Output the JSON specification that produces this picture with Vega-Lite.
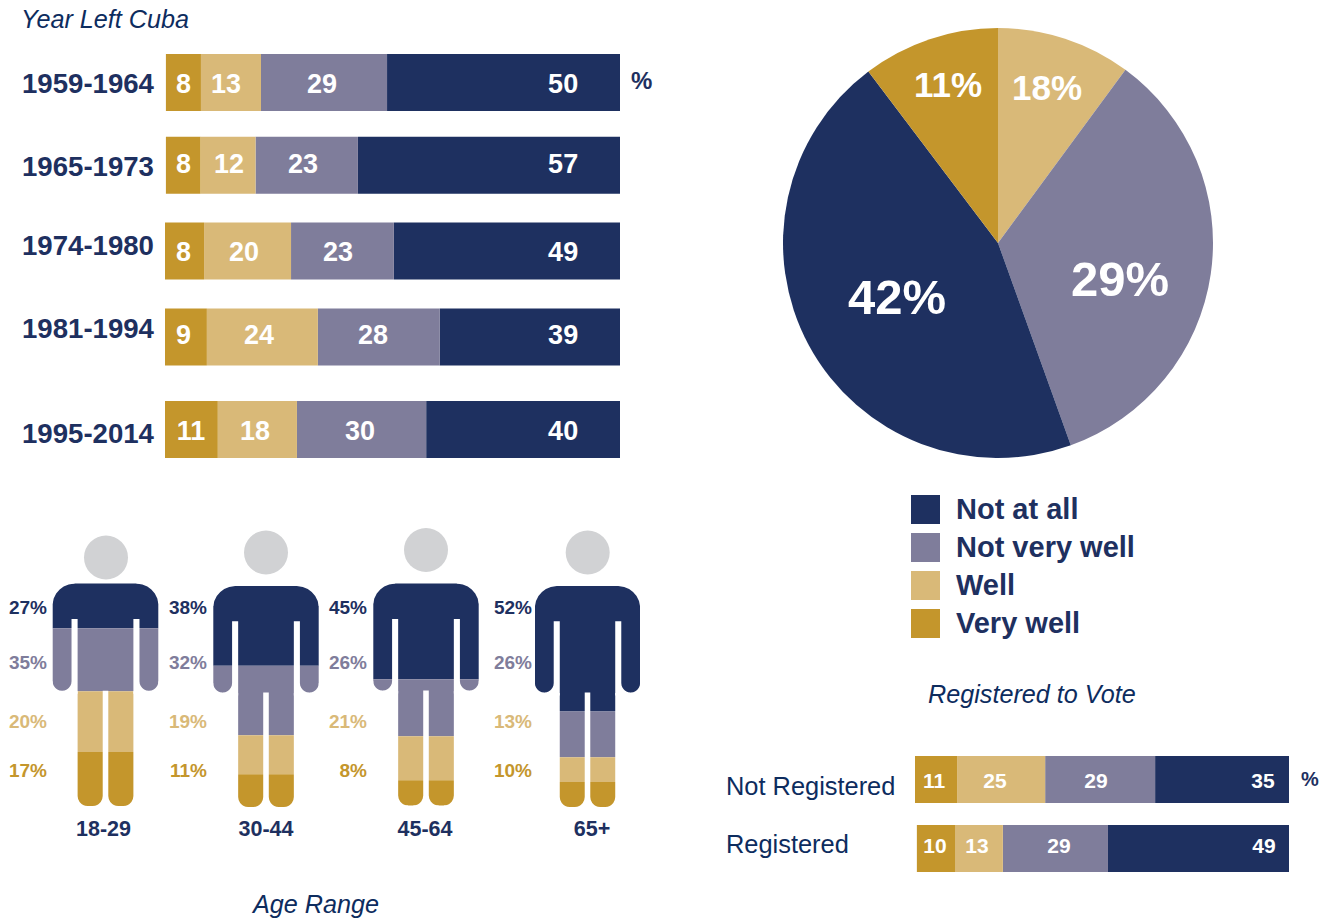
{"$schema":"https://vega.github.io/schema/vega-lite/v6.json","width":1326,"height":919,"padding":0,"autosize":{"type":"none"},"background":"white",
"config":{"font":"Liberation Sans","view":{"stroke":null},"axis":{"domain":false,"grid":false,"ticks":false,"labels":false,"title":null}},
"datasets":{
"years":[
{"row":"1959-1964","rank":1,"category":"Not at all","order":1,"v":51.2,"label":"50"},{"row":"1959-1964","rank":1,"category":"Not very well","order":2,"v":27.7,"label":"29"},{"row":"1959-1964","rank":1,"category":"Well","order":3,"v":13.2,"label":"13"},{"row":"1959-1964","rank":1,"category":"Very well","order":4,"v":7.7,"label":"8"},
{"row":"1965-1973","rank":2,"category":"Not at all","order":1,"v":57.6,"label":"57"},{"row":"1965-1973","rank":2,"category":"Not very well","order":2,"v":22.5,"label":"23"},{"row":"1965-1973","rank":2,"category":"Well","order":3,"v":12.1,"label":"12"},{"row":"1965-1973","rank":2,"category":"Very well","order":4,"v":7.6,"label":"8"},
{"row":"1974-1980","rank":3,"category":"Not at all","order":1,"v":49.7,"label":"49"},{"row":"1974-1980","rank":3,"category":"Not very well","order":2,"v":22.6,"label":"23"},{"row":"1974-1980","rank":3,"category":"Well","order":3,"v":19.1,"label":"20"},{"row":"1974-1980","rank":3,"category":"Very well","order":4,"v":8.6,"label":"8"},
{"row":"1981-1994","rank":4,"category":"Not at all","order":1,"v":39.6,"label":"39"},{"row":"1981-1994","rank":4,"category":"Not very well","order":2,"v":26.8,"label":"28"},{"row":"1981-1994","rank":4,"category":"Well","order":3,"v":24.4,"label":"24"},{"row":"1981-1994","rank":4,"category":"Very well","order":4,"v":9.2,"label":"9"},
{"row":"1995-2014","rank":5,"category":"Not at all","order":1,"v":42.6,"label":"40"},{"row":"1995-2014","rank":5,"category":"Not very well","order":2,"v":28.4,"label":"30"},{"row":"1995-2014","rank":5,"category":"Well","order":3,"v":17.4,"label":"18"},{"row":"1995-2014","rank":5,"category":"Very well","order":4,"v":11.6,"label":"11"}],
"registered":[
{"row":"Not Registered","rank":1,"category":"Not at all","order":1,"v":35.8,"label":"35"},{"row":"Not Registered","rank":1,"category":"Not very well","order":2,"v":29.4,"label":"29"},{"row":"Not Registered","rank":1,"category":"Well","order":3,"v":23.5,"label":"25"},{"row":"Not Registered","rank":1,"category":"Very well","order":4,"v":11.3,"label":"11"},
{"row":"Registered","rank":2,"category":"Not at all","order":1,"v":48.4,"label":"49"},{"row":"Registered","rank":2,"category":"Not very well","order":2,"v":28.1,"label":"29"},{"row":"Registered","rank":2,"category":"Well","order":3,"v":12.8,"label":"13"},{"row":"Registered","rank":2,"category":"Very well","order":4,"v":10.2,"label":"10"}],
"pie":[
{"category":"Well","rank":1,"share":10.1,"label":"18%"},{"category":"Not very well","rank":2,"share":34.4,"label":"29%"},{"category":"Not at all","rank":3,"share":45.2,"label":"42%"},{"category":"Very well","rank":4,"share":10.3,"label":"11%"}],
"people":[{"age":"18-29","rank":1},{"age":"30-44","rank":2},{"age":"45-64","rank":3},{"age":"65+","rank":4}],
"pct":[
{"age":"18-29","rank":1,"band":1,"category":"Not at all","label":"27%"},{"age":"18-29","rank":1,"band":2,"category":"Not very well","label":"35%"},{"age":"18-29","rank":1,"band":3,"category":"Well","label":"20%"},{"age":"18-29","rank":1,"band":4,"category":"Very well","label":"17%"},
{"age":"30-44","rank":2,"band":1,"category":"Not at all","label":"38%"},{"age":"30-44","rank":2,"band":2,"category":"Not very well","label":"32%"},{"age":"30-44","rank":2,"band":3,"category":"Well","label":"19%"},{"age":"30-44","rank":2,"band":4,"category":"Very well","label":"11%"},
{"age":"45-64","rank":3,"band":1,"category":"Not at all","label":"45%"},{"age":"45-64","rank":3,"band":2,"category":"Not very well","label":"26%"},{"age":"45-64","rank":3,"band":3,"category":"Well","label":"21%"},{"age":"45-64","rank":3,"band":4,"category":"Very well","label":"8%"},
{"age":"65+","rank":4,"band":1,"category":"Not at all","label":"52%"},{"age":"65+","rank":4,"band":2,"category":"Not very well","label":"26%"},{"age":"65+","rank":4,"band":3,"category":"Well","label":"13%"},{"age":"65+","rank":4,"band":4,"category":"Very well","label":"10%"}],
"bands":[
{"age":"18-29","category":"Not at all","y0":0,"y1":44.6},{"age":"18-29","category":"Not very well","y0":44.6,"y1":107.5},{"age":"18-29","category":"Well","y0":107.5,"y1":168},{"age":"18-29","category":"Very well","y0":168,"y1":222},
{"age":"30-44","category":"Not at all","y0":0,"y1":80},{"age":"30-44","category":"Not very well","y0":80,"y1":150},{"age":"30-44","category":"Well","y0":150,"y1":189},{"age":"30-44","category":"Very well","y0":189,"y1":222},
{"age":"45-64","category":"Not at all","y0":0,"y1":95.7},{"age":"45-64","category":"Not very well","y0":95.7,"y1":152.7},{"age":"45-64","category":"Well","y0":152.7,"y1":196.7},{"age":"45-64","category":"Very well","y0":196.7,"y1":222},
{"age":"65+","category":"Not at all","y0":0,"y1":126},{"age":"65+","category":"Not very well","y0":126,"y1":172},{"age":"65+","category":"Well","y0":172,"y1":197},{"age":"65+","category":"Very well","y0":197,"y1":222}],
"body":[
{"part":"shoulderL","y":-3,"from":-54,"to":-31},{"part":"shoulderL","y":0,"from":-54,"to":-31},{"part":"shoulderL","y":1,"from":-54,"to":-37},{"part":"shoulderL","y":3,"from":-54,"to":-42},{"part":"shoulderL","y":6,"from":-54,"to":-46},{"part":"shoulderL","y":10,"from":-54,"to":-49.5},{"part":"shoulderL","y":15,"from":-54,"to":-52},{"part":"shoulderL","y":20,"from":-54,"to":-53},
{"part":"shoulderR","y":-3,"from":31,"to":54},{"part":"shoulderR","y":0,"from":31,"to":54},{"part":"shoulderR","y":1,"from":37,"to":54},{"part":"shoulderR","y":3,"from":42,"to":54},{"part":"shoulderR","y":6,"from":46,"to":54},{"part":"shoulderR","y":10,"from":49.5,"to":54},{"part":"shoulderR","y":15,"from":52,"to":54},{"part":"shoulderR","y":20,"from":53,"to":54},
{"part":"gapL","y":35.5,"from":-34.1,"to":-28},{"part":"gapL","y":97.5,"from":-34.1,"to":-28},{"part":"gapL","y":100,"from":-34.4,"to":-28},{"part":"gapL","y":102,"from":-35.25,"to":-28},{"part":"gapL","y":104,"from":-36.7,"to":-28},{"part":"gapL","y":105,"from":-37.8,"to":-28},{"part":"gapL","y":106,"from":-39.3,"to":-28},{"part":"gapL","y":106.7,"from":-41.1,"to":-28},{"part":"gapL","y":107,"from":-43.6,"to":-28},{"part":"gapL","y":110,"from":-43.6,"to":-28},
{"part":"gapR","y":35.5,"from":28,"to":34.1},{"part":"gapR","y":97.5,"from":28,"to":34.1},{"part":"gapR","y":100,"from":28,"to":34.4},{"part":"gapR","y":102,"from":28,"to":35.25},{"part":"gapR","y":104,"from":28,"to":36.7},{"part":"gapR","y":105,"from":28,"to":37.8},{"part":"gapR","y":106,"from":28,"to":39.3},{"part":"gapR","y":106.7,"from":28,"to":41.1},{"part":"gapR","y":107,"from":28,"to":43.6},{"part":"gapR","y":110,"from":28,"to":43.6},
{"part":"armOutL","y":97.5,"from":-54,"to":-53.1},{"part":"armOutL","y":100,"from":-54,"to":-52.8},{"part":"armOutL","y":102,"from":-54,"to":-51.95},{"part":"armOutL","y":104,"from":-54,"to":-50.5},{"part":"armOutL","y":105,"from":-54,"to":-49.4},{"part":"armOutL","y":106,"from":-54,"to":-47.9},{"part":"armOutL","y":106.7,"from":-54,"to":-46.1},{"part":"armOutL","y":107,"from":-54,"to":-43.6},{"part":"armOutL","y":110,"from":-54,"to":-43.6},
{"part":"armOutR","y":97.5,"from":53.1,"to":54},{"part":"armOutR","y":100,"from":52.8,"to":54},{"part":"armOutR","y":102,"from":51.95,"to":54},{"part":"armOutR","y":104,"from":50.5,"to":54},{"part":"armOutR","y":105,"from":49.4,"to":54},{"part":"armOutR","y":106,"from":47.9,"to":54},{"part":"armOutR","y":106.7,"from":46.1,"to":54},{"part":"armOutR","y":107,"from":43.6,"to":54},{"part":"armOutR","y":110,"from":43.6,"to":54},
{"part":"sideL","y":107.5,"from":-54,"to":-28},{"part":"sideL","y":212,"from":-54,"to":-28},{"part":"sideL","y":215,"from":-54,"to":-27.5},{"part":"sideL","y":218,"from":-54,"to":-26},{"part":"sideL","y":220,"from":-54,"to":-24},{"part":"sideL","y":221,"from":-54,"to":-22.4},{"part":"sideL","y":221.7,"from":-54,"to":-20.4},{"part":"sideL","y":222,"from":-54,"to":-18},{"part":"sideL","y":225,"from":-54,"to":-18},
{"part":"sideR","y":107.5,"from":28,"to":54},{"part":"sideR","y":212,"from":28,"to":54},{"part":"sideR","y":215,"from":27.5,"to":54},{"part":"sideR","y":218,"from":26,"to":54},{"part":"sideR","y":220,"from":24,"to":54},{"part":"sideR","y":221,"from":22.4,"to":54},{"part":"sideR","y":221.7,"from":20.4,"to":54},{"part":"sideR","y":222,"from":18,"to":54},{"part":"sideR","y":225,"from":18,"to":54},
{"part":"legGap","y":107,"from":-2.8,"to":2.8},{"part":"legGap","y":212,"from":-2.8,"to":2.8},{"part":"legGap","y":215,"from":-3.3,"to":3.3},{"part":"legGap","y":218,"from":-4.8,"to":4.8},{"part":"legGap","y":220,"from":-6.8,"to":6.8},{"part":"legGap","y":221,"from":-8.4,"to":8.4},{"part":"legGap","y":221.7,"from":-10.4,"to":10.4},{"part":"legGap","y":222,"from":-12.8,"to":12.8},{"part":"legGap","y":225,"from":-12.8,"to":12.8}],
"titles":[{"text":"Year Left Cuba","rank":1},{"text":"Age Range","rank":2},{"text":"Registered to Vote","rank":3}],
"units":[{"text":"%"}]
},
"resolve":{"scale":{"x":"independent","y":"independent","theta":"independent"}},
"layer":[
{"data":{"name":"pie"},"mark":{"type":"arc","outerRadius":215,"innerRadius":0},"encoding":{
"x":{"datum":0,"type":"quantitative","axis":null,"scale":{"domain":[-1,1],"range":[783,1213]}},
"y":{"datum":0,"type":"quantitative","axis":null,"scale":{"domain":[-1,1],"range":[28,458]}},
"theta":{"field":"share","type":"quantitative","stack":true,"scale":{"domain":[0,100],"range":[0,6.2832]}},
"order":{"field":"rank","type":"quantitative"},
"color":{"field":"category","type":"nominal","scale":{"domain":["Not at all","Not very well","Well","Very well"],"range":["#1e3060","#7f7d9b","#d9b978","#c4962c"]},
"legend":{"title":null,"orient":"none","legendX":911,"legendY":495,"padding":0,"symbolType":"square","symbolSize":841,"symbolStrokeWidth":0,"symbolOpacity":1,"labelFontSize":29,"labelFontWeight":"bold","labelColor":"#1e3060","labelFont":"Liberation Sans","labelOffset":16,"rowPadding":8,"labelLimit":300}}}},
{"data":{"name":"pie"},"transform":[{"filter":"datum.rank==2||datum.rank==3"}],"mark":{"type":"text","fontWeight":"bold","color":"white","fontSize":49},"encoding":{
"x":{"field":"rank","type":"quantitative","axis":null,"scale":{"domain":[2,3],"range":[1120,897]}},
"y":{"field":"rank","type":"quantitative","axis":null,"scale":{"domain":[2,3],"range":[281,299]}},
"text":{"field":"label"}}},
{"data":{"name":"pie"},"transform":[{"filter":"datum.rank==1||datum.rank==4"}],"mark":{"type":"text","fontWeight":"bold","color":"white","fontSize":35},"encoding":{
"x":{"field":"rank","type":"quantitative","axis":null,"scale":{"domain":[1,4],"range":[1047,948]}},
"y":{"field":"rank","type":"quantitative","axis":null,"scale":{"domain":[1,4],"range":[89,86]}},
"text":{"field":"label"}}},

{"data":{"name":"years"},"transform":[{"stack":"v","groupby":["rank"],"sort":[{"field":"order","order":"ascending"}],"as":["v0","v1"]}],"mark":{"type":"bar","size":57,"orient":"horizontal"},"encoding":{
"x":{"field":"v0","type":"quantitative","axis":null,"scale":{"domain":[0,100],"range":[620,165]}},"x2":{"field":"v1"},
"y":{"field":"rank","type":"quantitative","axis":null,"scale":{"domain":[1,2,3,4,5],"range":[82.5,165.2,251,337,429.5],"padding":0}},
"color":{"field":"category","type":"nominal","legend":null}}},
{"data":{"name":"years"},"transform":[{"filter":"datum.order==4"}],"mark":{"type":"text","fontSize":27,"fontWeight":"bold","color":"white"},"encoding":{
"x":{"field":"rank","type":"quantitative","axis":null,"scale":{"domain":[1,2,3,4,5],"range":[183.5,183.5,183.5,183.5,191]}},
"y":{"field":"rank","type":"quantitative","axis":null,"scale":{"domain":[1,2,3,4,5],"range":[84.5,164.5,253,336,431.5]}},
"text":{"field":"label"}}},
{"data":{"name":"years"},"transform":[{"filter":"datum.order==3"}],"mark":{"type":"text","fontSize":27,"fontWeight":"bold","color":"white"},"encoding":{
"x":{"field":"rank","type":"quantitative","axis":null,"scale":{"domain":[1,2,3,4,5],"range":[226,229,244,259,255]}},
"y":{"field":"rank","type":"quantitative","axis":null,"scale":{"domain":[1,2,3,4,5],"range":[84.5,164.5,253,336,431.5]}},
"text":{"field":"label"}}},
{"data":{"name":"years"},"transform":[{"filter":"datum.order==2"}],"mark":{"type":"text","fontSize":27,"fontWeight":"bold","color":"white"},"encoding":{
"x":{"field":"rank","type":"quantitative","axis":null,"scale":{"domain":[1,2,3,4,5],"range":[322,303,338,373,360]}},
"y":{"field":"rank","type":"quantitative","axis":null,"scale":{"domain":[1,2,3,4,5],"range":[84.5,164.5,253,336,431.5]}},
"text":{"field":"label"}}},
{"data":{"name":"years"},"transform":[{"filter":"datum.order==1"}],"mark":{"type":"text","fontSize":27,"fontWeight":"bold","color":"white"},"encoding":{
"x":{"datum":12.5,"type":"quantitative","axis":null,"scale":{"domain":[0,100],"range":[620,165]}},
"y":{"field":"rank","type":"quantitative","axis":null,"scale":{"domain":[1,2,3,4,5],"range":[84.5,164.5,253,336,431.5]}},
"text":{"field":"label"}}},
{"data":{"name":"years"},"transform":[{"filter":"datum.order==1"}],"mark":{"type":"text","fontSize":27.6,"fontWeight":"bold","color":"#1e3060","align":"left"},"encoding":{
"x":{"datum":0,"type":"quantitative","axis":null,"scale":{"domain":[0,1],"range":[22,23]}},
"y":{"field":"rank","type":"quantitative","axis":null,"scale":{"domain":[1,2,3,4,5],"range":[84.5,168,247,330,435]}},
"text":{"field":"row"}}},

{"data":{"name":"registered"},"transform":[{"stack":"v","groupby":["rank"],"sort":[{"field":"order","order":"ascending"}],"as":["v0","v1"]}],"mark":{"type":"bar","size":47,"orient":"horizontal"},"encoding":{
"x":{"field":"v0","type":"quantitative","axis":null,"scale":{"domain":[0,100],"range":[1289,915]}},"x2":{"field":"v1"},
"y":{"field":"rank","type":"quantitative","axis":null,"scale":{"domain":[1,2],"range":[779.5,848.5],"padding":0}},
"color":{"field":"category","type":"nominal","legend":null}}},
{"data":{"name":"registered"},"transform":[{"filter":"datum.order==4"}],"mark":{"type":"text","fontSize":21,"fontWeight":"bold","color":"white"},"encoding":{
"x":{"field":"rank","type":"quantitative","axis":null,"scale":{"domain":[1,2],"range":[934,935]}},
"y":{"field":"rank","type":"quantitative","axis":null,"scale":{"domain":[1,2],"range":[782,847]}},
"text":{"field":"label"}}},
{"data":{"name":"registered"},"transform":[{"filter":"datum.order==3"}],"mark":{"type":"text","fontSize":21,"fontWeight":"bold","color":"white"},"encoding":{
"x":{"field":"rank","type":"quantitative","axis":null,"scale":{"domain":[1,2],"range":[995,977]}},
"y":{"field":"rank","type":"quantitative","axis":null,"scale":{"domain":[1,2],"range":[782,847]}},
"text":{"field":"label"}}},
{"data":{"name":"registered"},"transform":[{"filter":"datum.order==2"}],"mark":{"type":"text","fontSize":21,"fontWeight":"bold","color":"white"},"encoding":{
"x":{"field":"rank","type":"quantitative","axis":null,"scale":{"domain":[1,2],"range":[1096,1059]}},
"y":{"field":"rank","type":"quantitative","axis":null,"scale":{"domain":[1,2],"range":[782,847]}},
"text":{"field":"label"}}},
{"data":{"name":"registered"},"transform":[{"filter":"datum.order==1"}],"mark":{"type":"text","fontSize":21,"fontWeight":"bold","color":"white"},"encoding":{
"x":{"field":"rank","type":"quantitative","axis":null,"scale":{"domain":[1,2],"range":[1263,1264]}},
"y":{"field":"rank","type":"quantitative","axis":null,"scale":{"domain":[1,2],"range":[782,847]}},
"text":{"field":"label"}}},
{"data":{"name":"registered"},"transform":[{"filter":"datum.order==1"}],"mark":{"type":"text","fontSize":25.4,"color":"#0d2c5e","align":"left"},"encoding":{
"x":{"datum":0,"type":"quantitative","axis":null,"scale":{"domain":[0,1],"range":[726,727]}},
"y":{"field":"rank","type":"quantitative","axis":null,"scale":{"domain":[1,2],"range":[787,845]}},
"text":{"field":"row"}}},

{"data":{"name":"titles"},"mark":{"type":"text","fontSize":25.2,"fontStyle":"italic","color":"#0d2c5e","align":"left"},"encoding":{
"x":{"field":"rank","type":"quantitative","axis":null,"scale":{"domain":[1,2,3],"range":[21,253,928]}},
"y":{"field":"rank","type":"quantitative","axis":null,"scale":{"domain":[1,2,3],"range":[20,905,695]}},
"text":{"field":"text"}}},
{"data":{"name":"units"},"mark":{"type":"text","fontSize":24,"fontWeight":"bold","color":"#1e3060","align":"left"},"encoding":{
"x":{"datum":0,"type":"quantitative","axis":null,"scale":{"domain":[0,1],"range":[631,632]}},
"y":{"datum":0,"type":"quantitative","axis":null,"scale":{"domain":[0,1],"range":[82,83]}},
"text":{"field":"text"}}},
{"data":{"name":"units"},"mark":{"type":"text","fontSize":20,"fontWeight":"bold","color":"#1e3060","align":"left"},"encoding":{
"x":{"datum":0,"type":"quantitative","axis":null,"scale":{"domain":[0,1],"range":[1301,1302]}},
"y":{"datum":0,"type":"quantitative","axis":null,"scale":{"domain":[0,1],"range":[780,781]}},
"text":{"field":"text"}}},

{"data":{"name":"bands"},"transform":[{"filter":"datum.age=='18-29'"}],"mark":{"type":"rect"},"encoding":{
"x":{"datum":-53,"type":"quantitative","axis":null,"scale":{"domain":[-53,53],"range":[52.7,158.3]}},"x2":{"datum":53},
"y":{"field":"y0","type":"quantitative","axis":null,"scale":{"domain":[0,222],"range":[583.5,806]}},"y2":{"field":"y1"},
"color":{"field":"category","type":"nominal","legend":null}}},
{"data":{"name":"body"},"mark":{"type":"area","orient":"horizontal","fill":"white"},"encoding":{
"x":{"field":"from","type":"quantitative","stack":null,"axis":null,"scale":{"domain":[-53,53],"range":[52.7,158.3]}},"x2":{"field":"to"},
"y":{"field":"y","type":"quantitative","axis":null,"scale":{"domain":[0,222],"range":[583.5,806]}},
"detail":{"field":"part"}}},
{"data":{"name":"bands"},"transform":[{"filter":"datum.age=='30-44'"}],"mark":{"type":"rect"},"encoding":{
"x":{"datum":-53,"type":"quantitative","axis":null,"scale":{"domain":[-53,53],"range":[213.3,318.7]}},"x2":{"datum":53},
"y":{"field":"y0","type":"quantitative","axis":null,"scale":{"domain":[0,222],"range":[586,807]}},"y2":{"field":"y1"},
"color":{"field":"category","type":"nominal","legend":null}}},
{"data":{"name":"body"},"mark":{"type":"area","orient":"horizontal","fill":"white"},"encoding":{
"x":{"field":"from","type":"quantitative","stack":null,"axis":null,"scale":{"domain":[-53,53],"range":[213.3,318.7]}},"x2":{"field":"to"},
"y":{"field":"y","type":"quantitative","axis":null,"scale":{"domain":[0,222],"range":[586,807]}},
"detail":{"field":"part"}}},
{"data":{"name":"bands"},"transform":[{"filter":"datum.age=='45-64'"}],"mark":{"type":"rect"},"encoding":{
"x":{"datum":-53,"type":"quantitative","axis":null,"scale":{"domain":[-53,53],"range":[373.3,478.7]}},"x2":{"datum":53},
"y":{"field":"y0","type":"quantitative","axis":null,"scale":{"domain":[0,222],"range":[583.5,805.5]}},"y2":{"field":"y1"},
"color":{"field":"category","type":"nominal","legend":null}}},
{"data":{"name":"body"},"mark":{"type":"area","orient":"horizontal","fill":"white"},"encoding":{
"x":{"field":"from","type":"quantitative","stack":null,"axis":null,"scale":{"domain":[-53,53],"range":[373.3,478.7]}},"x2":{"field":"to"},
"y":{"field":"y","type":"quantitative","axis":null,"scale":{"domain":[0,222],"range":[583.5,805.5]}},
"detail":{"field":"part"}}},
{"data":{"name":"bands"},"transform":[{"filter":"datum.age=='65+'"}],"mark":{"type":"rect"},"encoding":{
"x":{"datum":-53,"type":"quantitative","axis":null,"scale":{"domain":[-53,53],"range":[535,640]}},"x2":{"datum":53},
"y":{"field":"y0","type":"quantitative","axis":null,"scale":{"domain":[0,222],"range":[586,807]}},"y2":{"field":"y1"},
"color":{"field":"category","type":"nominal","legend":null}}},
{"data":{"name":"body"},"mark":{"type":"area","orient":"horizontal","fill":"white"},"encoding":{
"x":{"field":"from","type":"quantitative","stack":null,"axis":null,"scale":{"domain":[-53,53],"range":[535,640]}},"x2":{"field":"to"},
"y":{"field":"y","type":"quantitative","axis":null,"scale":{"domain":[0,222],"range":[586,807]}},
"detail":{"field":"part"}}},

{"data":{"name":"people"},"mark":{"type":"point","filled":true,"shape":"circle","size":1936,"color":"#d1d2d4","opacity":1},"encoding":{
"x":{"field":"rank","type":"quantitative","axis":null,"scale":{"domain":[1,2,3,4],"range":[106,266,426,587.7]}},
"y":{"field":"rank","type":"quantitative","axis":null,"scale":{"domain":[1,2,3,4],"range":[557.5,552.5,550,552.5]}}}},
{"data":{"name":"people"},"mark":{"type":"text","fontSize":21.5,"fontWeight":"bold","color":"#1e3060"},"encoding":{
"x":{"field":"rank","type":"quantitative","axis":null,"scale":{"domain":[1,2,3,4],"range":[103.5,266,425,592]}},
"y":{"datum":0,"type":"quantitative","axis":null,"scale":{"domain":[0,1],"range":[830,831]}},
"text":{"field":"age"}}},
{"data":{"name":"pct"},"mark":{"type":"text","fontSize":19,"fontWeight":"bold","align":"right"},"encoding":{
"x":{"field":"rank","type":"quantitative","axis":null,"scale":{"domain":[1,2,3,4],"range":[47,207,367,532]}},
"y":{"field":"band","type":"quantitative","axis":null,"scale":{"domain":[1,2,3,4],"range":[607.7,662.7,721.7,770.7]}},
"color":{"field":"category","type":"nominal","legend":null},
"text":{"field":"label"}}}
]}
